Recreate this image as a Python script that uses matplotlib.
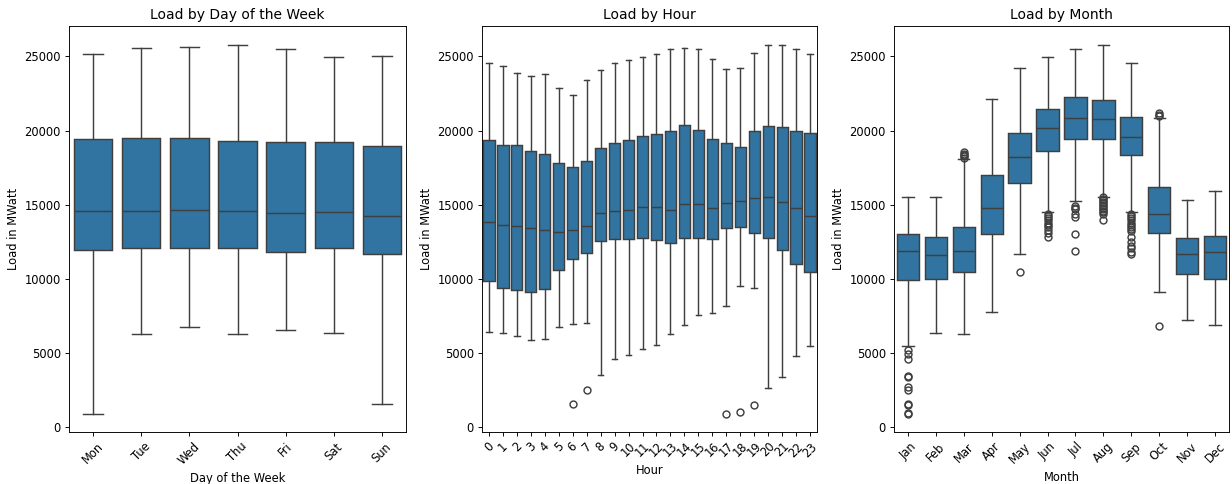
import matplotlib
matplotlib.use("Agg")
import matplotlib.pyplot as plt

# ---------------- Data ----------------
days = ["Mon", "Tue", "Wed", "Thu", "Fri", "Sat", "Sun"]
day_low = [922, 6272, 6766, 6294, 6542, 6384, 1596]
day_q1 = [11914, 12050, 12094, 12050, 11780, 12050, 11645]
day_med = [14590, 14590, 14657, 14567, 14410, 14522, 14207]
day_q3 = [19400, 19490, 19468, 19265, 19198, 19198, 18951]
day_high = [25133, 25537, 25650, 25785, 25492, 24953, 24998]
day_fliers = [[], [], [], [], [], [], []]

hours = [str(h) for h in range(24)]
hour_low = [6429, 6339, 6137, 5912, 5980, 6744, 6946, 7036, 3507, 4586, 4856, 5260,
            5553, 6294, 6879, 7553, 7711, 8160, 9509, 9374, 2675, 3394, 4811, 5508]
hour_q1 = [9869, 9419, 9262, 9127, 9329, 10611, 11352, 11757, 12544, 12679, 12701, 12746,
           12589, 12431, 12724, 12769, 12701, 13398, 13510, 13106, 12769, 11959, 11015, 10476]
hour_med = [13825, 13600, 13555, 13443, 13308, 13128, 13308, 13578, 14432, 14545, 14657, 14837,
            14814, 14612, 15017, 15017, 14792, 15129, 15219, 15444, 15489, 15196, 14747, 14207]
hour_q3 = [19333, 18996, 18996, 18636, 18434, 17827, 17512, 17917, 18816, 19153, 19355, 19648,
           19737, 19962, 20344, 20052, 19445, 19153, 18883, 19940, 20277, 20254, 19940, 19827]
hour_high = [24526, 24323, 23851, 23649, 23829, 22885, 22390, 23424, 24099, 24526, 24728, 24930,
             25155, 25515, 25582, 25470, 24818, 24121, 24211, 25200, 25785, 25785, 25515, 25155]
hour_fliers = [[], [], [], [], [], [], [1596], [2540], [], [], [], [],
               [], [], [], [], [], [922], [1012], [1529], [], [], [], []]

months = ["Jan", "Feb", "Mar", "Apr", "May", "Jun", "Jul", "Aug", "Sep", "Oct", "Nov", "Dec"]
month_low = [5485, 6384, 6272, 7756, 11667, 14477, 15219, 15534, 14500, 9127, 7261, 6879]
month_q1 = [9936, 9959, 10476, 13016, 16433, 18613, 19400, 19445, 18321, 13106, 10363, 9959]
month_med = [11847, 11622, 11892, 14769, 18209, 20142, 20861, 20772, 19558, 14387, 11645, 11825]
month_q3 = [12993, 12791, 13510, 16995, 19805, 21446, 22255, 22075, 20884, 16163, 12724, 12904]
month_high = [15489, 15489, 18051, 22143, 24211, 24953, 25492, 25785, 24526, 20816, 15286, 15916]
month_fliers = [
    [5238, 4923, 4631, 3462, 3394, 2720, 2540, 1596, 1484, 989, 899],
    [],
    [18150, 18250, 18350, 18450, 18550],
    [],
    [10453],
    [14400, 14250, 14100, 13950, 13800, 13650, 13500, 13300, 13100, 12850],
    [14904, 14800, 14702, 14400, 14140, 12993, 11869],
    [15500, 15400, 15300, 15200, 15100, 15000, 14900, 14800, 14700, 14600, 14500, 14400, 13983],
    [14400, 14250, 14100, 13950, 13800, 13650, 13500, 13350, 13200, 12800, 12500, 12200, 12050, 11800, 11700],
    [20950, 21050, 21150, 6811],
    [],
    [],
]

# ---------------- Styling ----------------
S = 0.83  # reference appears rendered at ~83 dpi-equivalent scale
plt.rcParams.update({
    "font.size": 10 * S,
    "axes.linewidth": 0.8 * S,
    "xtick.major.size": 3.5 * S,
    "ytick.major.size": 3.5 * S,
    "xtick.major.width": 0.8 * S,
    "ytick.major.width": 0.8 * S,
    "xtick.major.pad": 3.5 * S,
    "ytick.major.pad": 3.5 * S,
    "axes.titlepad": 6 * S,
    "axes.labelpad": 4 * S,
})

BOX_COLOR = "#3274a1"
LINE_COLOR = "#3f3f3f"
LW = 1.25 * S


def draw(ax, cats, low, q1, med, q3, high, fliers, title, xlabel):
    stats = []
    for i in range(len(cats)):
        stats.append(dict(whislo=low[i], q1=q1[i], med=med[i], q3=q3[i],
                          whishi=high[i], fliers=fliers[i], label=cats[i]))
    ax.bxp(stats, positions=list(range(len(cats))), widths=0.8,
           patch_artist=True, showfliers=True, capwidths=0.4,
           boxprops=dict(facecolor=BOX_COLOR, edgecolor=LINE_COLOR, linewidth=LW),
           medianprops=dict(color=LINE_COLOR, linewidth=LW),
           whiskerprops=dict(color=LINE_COLOR, linewidth=LW),
           capprops=dict(color=LINE_COLOR, linewidth=LW),
           flierprops=dict(marker="o", markerfacecolor="none",
                           markeredgecolor=LINE_COLOR, markersize=6 * S,
                           markeredgewidth=LW))
    ax.set_xlim(-0.5, len(cats) - 0.5)
    ax.set_ylim(-320, 27045)
    ax.set_xticks(range(len(cats)))
    ax.set_xticklabels(cats, rotation=45)
    ax.set_yticks([0, 5000, 10000, 15000, 20000, 25000])
    ax.set_title(title, fontsize=12 * S)
    ax.set_xlabel(xlabel)
    ax.set_ylabel("Load in MWatt")


fig = plt.figure(figsize=(12.32, 4.84), dpi=100)
ax1 = fig.add_axes([69 / 1232, 52 / 484, 337 / 1232, 406 / 484])
ax2 = fig.add_axes([482 / 1232, 52 / 484, 335 / 1232, 406 / 484])
ax3 = fig.add_axes([894 / 1232, 52 / 484, 335 / 1232, 406 / 484])

draw(ax1, days, day_low, day_q1, day_med, day_q3, day_high, day_fliers,
     "Load by Day of the Week", "Day of the Week")
draw(ax2, hours, hour_low, hour_q1, hour_med, hour_q3, hour_high, hour_fliers,
     "Load by Hour", "Hour")
draw(ax3, months, month_low, month_q1, month_med, month_q3, month_high, month_fliers,
     "Load by Month", "Month")

fig.savefig("out.png", dpi=100)
